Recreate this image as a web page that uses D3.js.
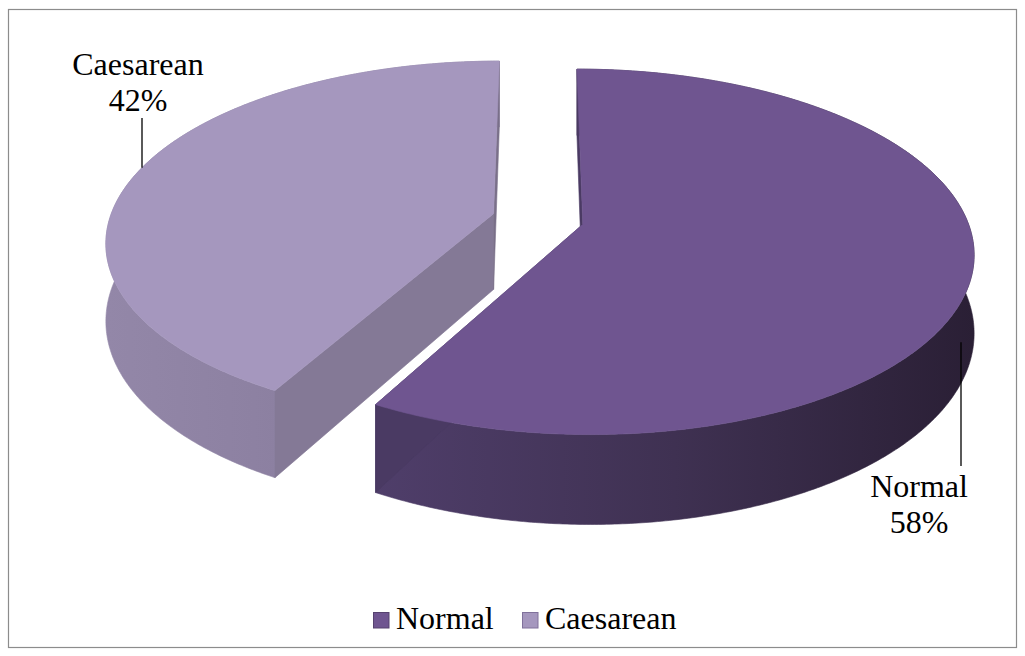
<!DOCTYPE html>
<html>
<head>
<meta charset="utf-8">
<script src="https://cdn.jsdelivr.net/npm/d3@7"></script>
<style>
  body { margin: 0; background: #fff; }
  svg { display: block; }
  .lbl { font-family: "Liberation Serif", "Times New Roman", serif; font-size: 32px; fill: #000; }
</style>
</head>
<body>
<svg id="plot"></svg>
<script>
const WIDTH = 1025;
const HEIGHT = 656;

// data
const categories = ['Normal', 'Caesarean'];
const values = [58, 42];
const percentLabels = ['58%', '42%'];

// colours per slice
const topColors = ['#6f5590', '#a597be'];
const sideColors = [['#4f3e6a', '#3f3152', '#2a1f35'], ['#9387a8', '#8b7fa0', '#887c9d']];
const cutColors = [['#4a3a63', '#4a3a63'], ['#847996', '#7a7089']];
const legendStroke = ['#56426f', '#80719b'];

// 3d view settings
const cx = 538, cy = 219;
const RX = 384, RY = 177;
const P = 0.15;      // perspective strength
const THICK = 76;    // thickness at centre depth
const EXPLODE = 0.12;

function project(u, v, down) {
    let s = 1 / (1 - P * v);
    return [cx + RX * u * s, cy + RY * v * s + (down ? THICK * s : 0)];
}

function slicePoint(a, r, off, down) {
    let u = r * Math.sin(a) + off[0];
    let v = -r * Math.cos(a) + off[1];
    return project(u, v, down);
}

function start() {
    let svg = d3.select('#plot')
        .attr('width', WIDTH)
        .attr('height', HEIGHT);

    let defs = svg.append('defs');

    // chart frame
    svg.append('rect')
        .attr('x', 8.5).attr('y', 9.5)
        .attr('width', 1008).attr('height', 638)
        .attr('fill', 'none')
        .attr('stroke', '#8c8c8c')
        .attr('stroke-width', 1.2);

    let pie = d3.pie().sort(null).startAngle(0).endAngle(2 * Math.PI);
    let arcs = pie(values);

    let line = d3.line();

    // draw back slice (Caesarean) first, then Normal
    let order = [1, 0];
    let geo = [];

    order.forEach(i => {
        let d = arcs[i];
        let mid = (d.startAngle + d.endAngle) / 2;
        let off = [EXPLODE * Math.sin(mid), -EXPLODE * Math.cos(mid)];
        let steps = d3.range(d.startAngle, d.endAngle, Math.PI / 360).concat([d.endAngle]);

        let topArc = steps.map(a => slicePoint(a, 1, off, false));
        let botArc = steps.map(a => slicePoint(a, 1, off, true));
        let apexTop = slicePoint(0, 0, off, false);
        let apexBot = slicePoint(0, 0, off, true);
        geo[i] = { topArc, botArc, off, d };

        let g = svg.append('g').attr('class', 'slice-' + i);

        // curved side
        let xs = topArc.map(p => p[0]);
        let gid = 'side' + i;
        let grad = defs.append('linearGradient')
            .attr('id', gid)
            .attr('gradientUnits', 'userSpaceOnUse')
            .attr('x1', d3.min(xs)).attr('x2', d3.max(xs))
            .attr('y1', 0).attr('y2', 0);
        sideColors[i].forEach((c, k, arr) => {
            grad.append('stop')
                .attr('offset', k / (arr.length - 1))
                .attr('stop-color', c);
        });
        g.append('path')
            .attr('d', line(topArc.concat(botArc.slice().reverse())) + 'Z')
            .attr('fill', `url(#${gid})`)
            .attr('stroke', `url(#${gid})`)
            .attr('stroke-width', 0.6);

        // cut faces (start and end edge)
        let faces = [
            [apexTop, topArc[0], botArc[0], apexBot],
            [apexTop, topArc[topArc.length - 1], botArc[botArc.length - 1], apexBot]
        ];
        faces.forEach((f, k) => {
            g.append('path')
                .attr('d', line(f) + 'Z')
                .attr('fill', cutColors[i][k])
                .attr('stroke', cutColors[i][k])
                .attr('stroke-width', 0.6);
        });

        // top face
        g.append('path')
            .attr('d', line([apexTop].concat(topArc)) + 'Z')
            .attr('fill', topColors[i])
            .attr('stroke', topColors[i])
            .attr('stroke-width', 0.6);
    });

    // data labels with leader lines
    let labelPos = [
        { x: 919, y: 497, lineX: 961, lineTop: 466, depth: 0.5, front: true },
        { x: 138, y: 75, lineX: 142, lineTop: 118, depth: 0, front: false }
    ];
    categories.forEach((c, i) => {
        let lp = labelPos[i];
        let arcPts = geo[i].topArc.map((p, k) => ({ p, k }))
            .filter(o => lp.front ? o.p[1] > cy + 40 : o.p[1] < cy);
        let b = arcPts.reduce((a, o) => Math.abs(o.p[0] - lp.lineX) < Math.abs(a.p[0] - lp.lineX) ? o : a);
        let endY = b.p[1] + (geo[i].botArc[b.k][1] - b.p[1]) * lp.depth;

        svg.append('line')
            .attr('x1', lp.lineX).attr('x2', lp.lineX)
            .attr('y1', Math.min(endY, lp.lineTop)).attr('y2', Math.max(endY, lp.lineTop))
            .attr('stroke', '#000')
            .attr('stroke-width', 1.3);

        [c, percentLabels[i]].forEach((s, k) => {
            let t = svg.append('text')
                .attr('class', 'lbl')
                .attr('y', lp.y + k * 36)
                .text(s);
            let w = t.node().getComputedTextLength();
            t.attr('x', lp.x - w / 2);
        });
    });

    // legend
    let legend = svg.append('g').attr('transform', 'translate(373, 612)');
    let legendX = [0, 149];
    categories.forEach((c, i) => {
        let item = legend.append('g').attr('transform', `translate(${legendX[i]}, 0)`);
        item.append('rect')
            .attr('x', 0.5).attr('y', 0.5)
            .attr('width', 15.5).attr('height', 15.5)
            .attr('fill', topColors[i])
            .attr('stroke', legendStroke[i]);
        item.append('text')
            .attr('class', 'lbl')
            .attr('x', 23).attr('y', 17)
            .text(c);
    });
}

window.onload = start;
</script>
</body>
</html>
